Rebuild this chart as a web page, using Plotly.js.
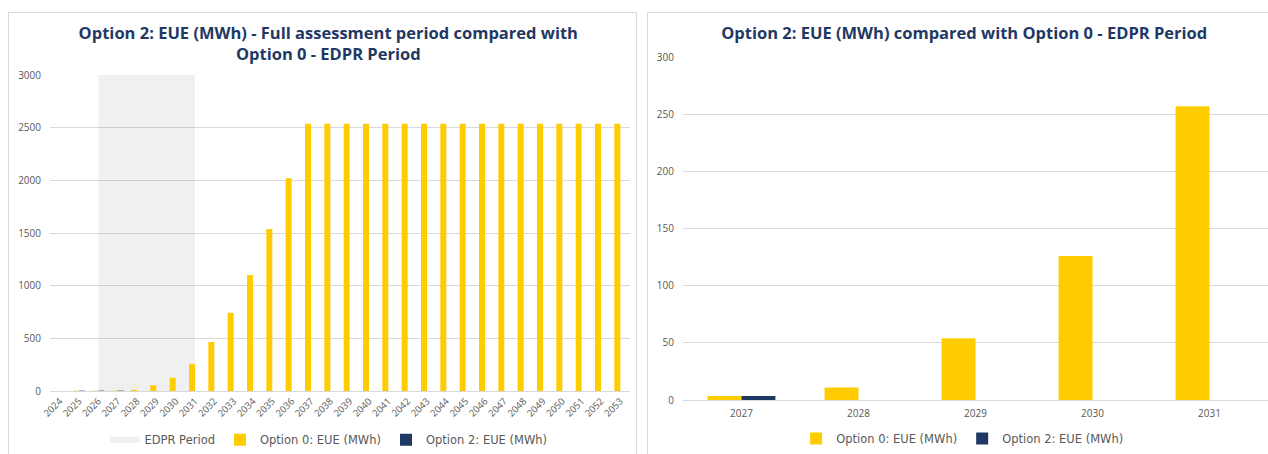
<!DOCTYPE html>
<html><head><meta charset="utf-8">
<script src="https://cdn.plot.ly/plotly-3.0.1.min.js"></script>
<style>
html,body{margin:0;padding:0;background:#fff;overflow:hidden;width:1268px;height:454px;}
.panel{position:absolute;}
.frame{position:absolute;border:1px solid #d9d9d9;box-sizing:border-box;pointer-events:none;}
</style></head><body>
<div id="left" class="panel" style="left:8px;top:12px;width:628px;height:442px;"></div>
<div class="frame" style="left:8px;top:12px;width:629px;height:452px;"></div>
<div id="right" class="panel" style="left:648px;top:12px;width:620px;height:442px;"></div>
<div class="frame" style="left:647px;top:12px;width:640px;height:452px;"></div>
<script>
// ---- data ----
const years = ['2024','2025','2026','2027','2028','2029','2030','2031','2032','2033','2034','2035','2036','2037','2038','2039','2040','2041','2042','2043','2044','2045','2046','2047','2048','2049','2050','2051','2052','2053'];
const option0 = [0, 3.5, 3.5, 3.5, 11, 54, 126, 257, 465, 742, 1102, 1538, 2020, 2538, 2538, 2538, 2538, 2538, 2538, 2538, 2538, 2538, 2538, 2538, 2538, 2538, 2538, 2538, 2538, 2538];
const option2 = [0, 3.5, 3.5, 3.5, 0, 0, 0, 0, 0, 0, 0, 0, 0, 0, 0, 0, 0, 0, 0, 0, 0, 0, 0, 0, 0, 0, 0, 0, 0, 0];
const edprPeriod = [null, null, 3000, 3000, 3000, 3000, 3000, 3000, null, null, null, null, null, null, null, null, null, null, null, null, null, null, null, null, null, null, null, null, null, null];
const edprYears = ['2027','2028','2029','2030','2031'];
const names = {edpr: 'EDPR Period', o0: 'Option 0: EUE (MWh)', o2: 'Option 2: EUE (MWh)'};
const titles = {
  left: 'Option 2: EUE (MWh) - Full assessment period compared with<br>Option 0 - EDPR Period',
  right: 'Option 2: EUE (MWh) compared with Option 0 - EDPR Period'
};

// ---- style ----
const YELLOW = '#FFCC00', NAVY = '#1F3864', GRID = '#d9d9d9', TXT = '#595959';
const FONT = 'Open Sans, DejaVu Sans, sans-serif';
const LFONT = 'DejaVu Sans, sans-serif';
const TFONT = {family: FONT, size: 16.5, color: '#1F3864', weight: 700};

// ---- left chart ----
const ex = [], ey = [];
years.forEach((y, i) => { if (edprPeriod[i] !== null) { ex.push(y); ey.push(edprPeriod[i]); } });

const leftTraces = [
  {type: 'scatter', mode: 'none', x: ex, y: ey, fill: 'tozeroy', fillcolor: 'rgba(0,0,0,0.06)',
   name: names.edpr, xaxis: 'x', yaxis: 'y', hoverinfo: 'skip'},
  {type: 'bar', x: years, y: option0, name: names.o0, marker: {color: YELLOW}, xaxis: 'x2', yaxis: 'y2'},
  {type: 'bar', x: years, y: option2, name: names.o2, marker: {color: NAVY}, xaxis: 'x2', yaxis: 'y2'}
];
const catAxis = {type: 'category', categoryorder: 'array', categoryarray: years, range: [-0.5, years.length - 0.5]};
const leftLayout = {
  width: 628, height: 442,
  margin: {l: 42, r: 6, t: 63, b: 63},
  paper_bgcolor: 'rgba(0,0,0,0)', plot_bgcolor: 'rgba(0,0,0,0)',
  title: {text: titles.left, font: TFONT, x: 0.51, xanchor: 'center', y: 0.94, yanchor: 'top', yref: 'container'},
  font: {family: FONT, color: TXT, size: 9},
  barmode: 'group', bargap: 0.38, bargroupgap: 0,
  showlegend: true,
  legend: {orientation: 'h', x: 0.48, xanchor: 'center', y: 0.032, yanchor: 'middle', yref: 'container',
           font: {family: LFONT, size: 11.5, color: TXT}, traceorder: 'normal', itemwidth: 30},
  xaxis: Object.assign({}, catAxis, {showgrid: false, showline: true, linecolor: GRID, linewidth: 1, ticks: '',
          tickangle: -45, tickfont: {size: 9.5, color: TXT}, zeroline: false}),
  yaxis: {range: [0, 3000], dtick: 500, showgrid: true, gridcolor: GRID, gridwidth: 1, zeroline: false,
          showline: false, ticks: '', tickfont: {size: 10, color: TXT}, ticklabelstandoff: 8},
  xaxis2: Object.assign({}, catAxis, {overlaying: 'x', anchor: 'y2', visible: false}),
  yaxis2: {overlaying: 'y', anchor: 'x2', range: [0, 3000], visible: false, showgrid: false, zeroline: false}
};
Plotly.newPlot('left', leftTraces, leftLayout, {displayModeBar: false, staticPlot: true});

// ---- right chart ----
const ridx = edprYears.map(y => years.indexOf(y));
const rightTraces = [
  {type: 'bar', x: edprYears, y: ridx.map(i => option0[i]), name: names.o0, marker: {color: YELLOW}},
  {type: 'bar', x: edprYears, y: ridx.map(i => option2[i]), name: names.o2, marker: {color: NAVY}}
];
const rightLayout = {
  width: 620, height: 442,
  margin: {l: 35, r: 0, t: 45, b: 54},
  paper_bgcolor: 'rgba(0,0,0,0)', plot_bgcolor: 'rgba(0,0,0,0)',
  title: {text: titles.right, font: TFONT, x: 0.51, xanchor: 'center', y: 0.966, yanchor: 'top', yref: 'container'},
  font: {family: FONT, color: TXT, size: 9},
  barmode: 'group', bargap: 0.42, bargroupgap: 0,
  showlegend: true,
  legend: {orientation: 'h', x: 0.478, xanchor: 'center', y: 0.035, yanchor: 'middle', yref: 'container',
           font: {family: LFONT, size: 11.5, color: TXT}, traceorder: 'normal', itemwidth: 30},
  xaxis: {type: 'category', showgrid: false, showline: true, linecolor: GRID, linewidth: 1, ticks: '',
          tickfont: {size: 10, color: TXT}, zeroline: false, ticklabelstandoff: 4},
  yaxis: {range: [0, 300], dtick: 50, showgrid: true, gridcolor: GRID, gridwidth: 1, zeroline: false,
          showline: false, ticks: '', tickfont: {size: 10, color: TXT}, ticklabelstandoff: 8}
};
Plotly.newPlot('right', rightTraces, rightLayout, {displayModeBar: false, staticPlot: true});
</script>
</body></html>
